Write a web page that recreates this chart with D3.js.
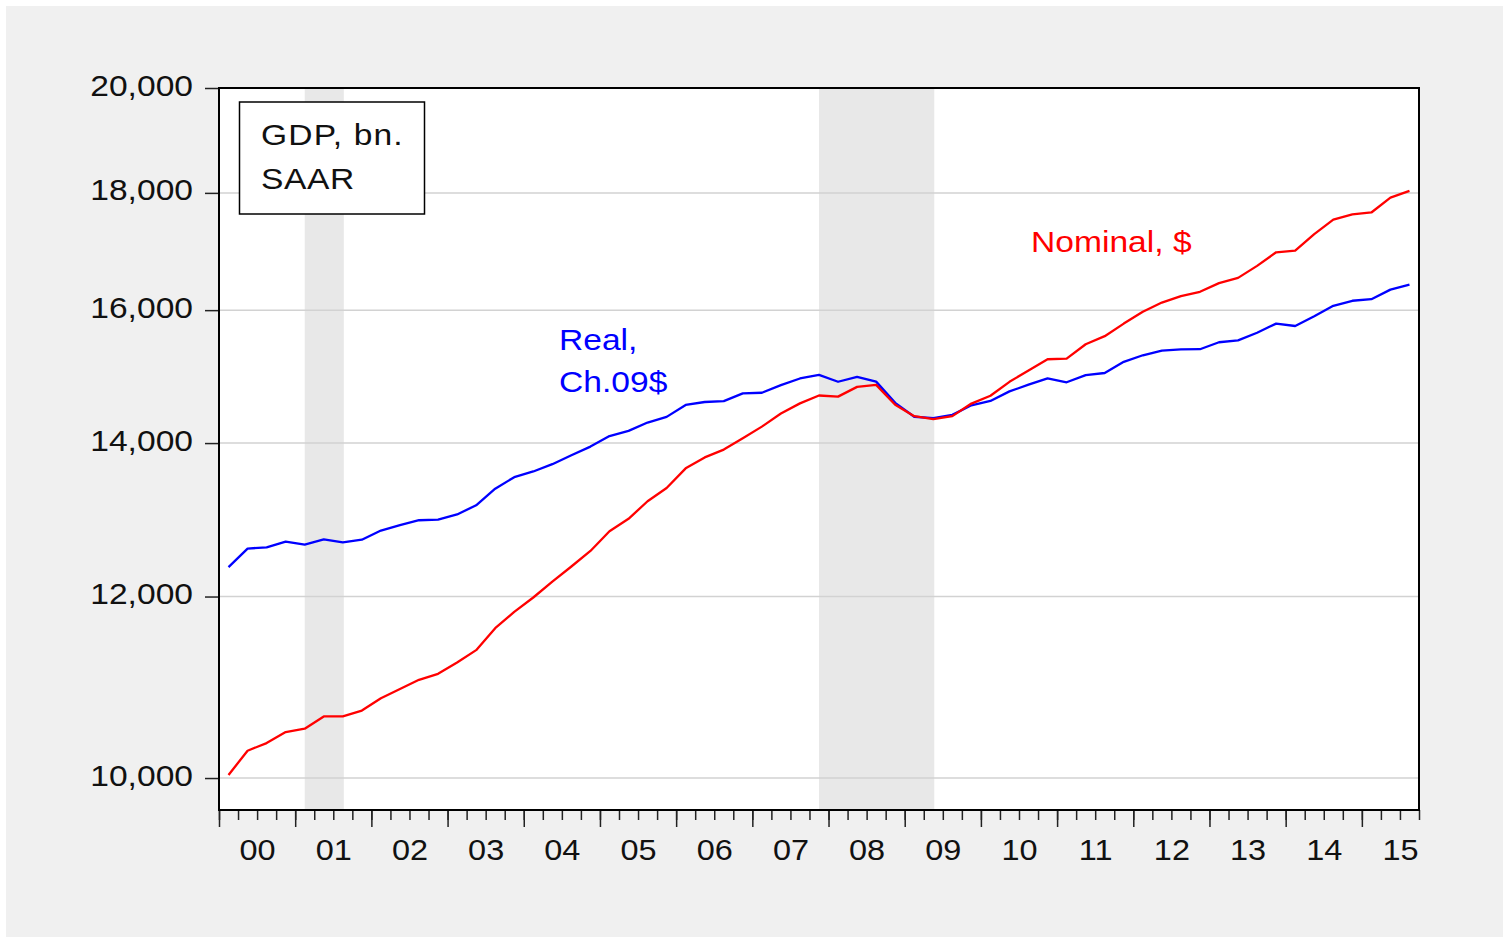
<!DOCTYPE html>
<html>
<head>
<meta charset="utf-8">
<script src="https://cdn.jsdelivr.net/npm/d3@7"></script>
<style>
	body { margin: 0; background: #ffffff; }
	svg { display: block; }
	text { font-family: 'Liberation Sans', Arial, sans-serif; }
</style>
</head>
<body>
<svg></svg>
<script>
// year labels on the x axis, data is quarterly from 2000Q1 to 2015Q3
const years = ['00', '01', '02', '03', '04', '05', '06', '07', '08', '09', '10', '11', '12', '13', '14', '15'];

// real GDP, bn. chained 2009 $, SAAR
const realGdp = [
	12359.1, 12592.5, 12607.7, 12679.3,
	12643.3, 12710.3, 12670.1, 12705.3,
	12822.3, 12893.0, 12955.8, 12964.0,
	13031.2, 13152.1, 13372.4, 13528.7,
	13606.5, 13706.2, 13830.8, 13950.4,
	14099.1, 14172.7, 14291.8, 14373.4,
	14546.1, 14589.6, 14602.6, 14716.9,
	14726.0, 14838.7, 14938.5, 14991.8,
	14889.5, 14963.4, 14891.6, 14577.0,
	14375.0, 14355.6, 14402.5, 14541.9,
	14604.8, 14745.9, 14845.5, 14939.0,
	14881.3, 14989.6, 15021.1, 15190.3,
	15291.0, 15362.4, 15380.8, 15384.3,
	15491.9, 15521.6, 15641.3, 15785.3,
	15747.0, 15900.8, 16069.0, 16151.4,
	16177.3, 16333.6, 16414.0
];

// nominal GDP, bn. $, SAAR
const nominalGdp = [
	10031.0, 10278.3, 10357.4, 10472.3,
	10508.1, 10638.4, 10639.5, 10701.3,
	10834.4, 10934.8, 11037.1, 11103.8,
	11230.1, 11370.7, 11625.1, 11816.8,
	11988.4, 12181.4, 12367.7, 12562.2,
	12813.7, 12974.1, 13205.4, 13381.6,
	13648.9, 13799.8, 13908.5, 14066.4,
	14233.2, 14422.3, 14569.7, 14685.3,
	14668.4, 14813.0, 14843.0, 14549.9,
	14383.9, 14340.4, 14384.1, 14566.5,
	14681.1, 14888.6, 15057.7, 15230.2,
	15238.4, 15460.9, 15587.1, 15785.3,
	15973.9, 16121.9, 16227.9, 16297.3,
	16440.7, 16526.8, 16727.5, 16957.6,
	16984.3, 17270.0, 17522.1, 17615.9,
	17649.3, 17913.7, 18035.0
];

// NBER recessions, first and last quarter shaded
const recessions = [['2001Q1', '2001Q3'], ['2007Q4', '2009Q2']];

const yTicks = [10000, 12000, 14000, 16000, 18000, 20000];

const width = 1503;
const height = 937;
const plotLeft = 219, plotRight = 1419, plotTop = 88, plotBottom = 810;
const sx = 1.12; // the original picture is stretched sideways a little

const quarters = [];
years.forEach((yy) => {
	for (let q = 1; q <= 4; q++) {
		quarters.push('20' + yy + 'Q' + q);
	}
});
const n = realGdp.length;
const qIndex = (s) => quarters.indexOf(s);

const svg = d3.select('svg')
	.attr('width', width)
	.attr('height', height)
	.attr('viewBox', [0, 0, width, height]);

svg.append('rect')
	.attr('x', 6)
	.attr('y', 6)
	.attr('width', width - 6)
	.attr('height', height - 6)
	.attr('fill', '#f0f0f0');

const x = d3.scaleLinear()
	.domain([-0.5, n - 0.5])
	.range([plotLeft, plotRight]);

const y = d3.scaleLog()
	.domain([9684, 20000])
	.range([plotBottom, plotTop]);

svg.append('rect')
	.attr('x', plotLeft)
	.attr('y', plotTop)
	.attr('width', plotRight - plotLeft)
	.attr('height', plotBottom - plotTop)
	.attr('fill', '#ffffff');

// recession shading
svg.append('g')
	.selectAll('rect')
	.data(recessions)
	.enter()
		.append('rect')
		.attr('x', d => x(qIndex(d[0])))
		.attr('y', plotTop)
		.attr('width', d => x(qIndex(d[1])) - x(qIndex(d[0])) + 1)
		.attr('height', plotBottom - plotTop)
		.attr('fill', '#e8e8e8');

// grid lines
svg.append('g')
	.selectAll('line')
	.data(yTicks)
	.enter()
		.append('line')
		.attr('x1', plotLeft)
		.attr('x2', plotRight)
		.attr('y1', d => y(d))
		.attr('y2', d => y(d))
		.attr('stroke', '#d2d2d2')
		.attr('stroke-width', 1.5);

// y axis
const yAxis = svg.append('g')
	.attr('transform', 'translate(' + plotLeft + ',0)')
	.call(
		d3.axisLeft(y)
			.tickValues(yTicks)
			.tickFormat(d3.format(','))
			.tickSize(14)
	);
yAxis.select('.domain').remove();
yAxis.selectAll('line')
	.attr('stroke', '#222')
	.attr('stroke-width', 1.5);
yAxis.selectAll('text')
	.attr('x', null)
	.attr('dy', null)
	.attr('transform', 'translate(-26,7) scale(' + sx + ',1)')
	.attr('font-size', 30)
	.attr('fill', '#111');

// x axis: quarter ticks, year ticks, labels
const quarterBounds = d3.range(0, n + 1).map(i => i - 0.5);
const yearBounds = quarterBounds.filter((d, i) => i % 4 === 0);
const yearMids = years.map((d, i) => i * 4 + 1.5);

const minor = svg.append('g')
	.attr('transform', 'translate(0,' + plotBottom + ')')
	.call(d3.axisBottom(x).tickValues(quarterBounds).tickSize(10).tickFormat(''));
minor.select('.domain').remove();

const major = svg.append('g')
	.attr('transform', 'translate(0,' + plotBottom + ')')
	.call(d3.axisBottom(x).tickValues(yearBounds).tickSize(17).tickFormat(''));
major.select('.domain').remove();

svg.selectAll('.tick line')
	.attr('stroke', '#222')
	.attr('stroke-width', 1.5);

const labels = svg.append('g')
	.attr('transform', 'translate(0,' + plotBottom + ')')
	.call(
		d3.axisBottom(x)
			.tickValues(yearMids)
			.tickSize(0)
			.tickFormat((d, i) => years[i])
	);
labels.select('.domain').remove();
labels.selectAll('text')
	.attr('y', null)
	.attr('dy', null)
	.attr('transform', 'translate(0,50) scale(' + sx + ',1)')
	.attr('font-size', 29)
	.attr('fill', '#111');
labels.attr('font-family', null);
yAxis.attr('font-family', null);

// series
const line = d3.line()
	.x((d, i) => x(i))
	.y(d => y(d));

svg.append('path')
	.datum(realGdp)
	.attr('d', line)
	.attr('fill', 'none')
	.attr('stroke', '#0000ff')
	.attr('stroke-width', 2.3)
	.attr('stroke-linejoin', 'round');

svg.append('path')
	.datum(nominalGdp)
	.attr('d', line)
	.attr('fill', 'none')
	.attr('stroke', '#ff0000')
	.attr('stroke-width', 2.3)
	.attr('stroke-linejoin', 'round');

// frame
svg.append('rect')
	.attr('x', plotLeft)
	.attr('y', plotTop)
	.attr('width', plotRight - plotLeft)
	.attr('height', plotBottom - plotTop)
	.attr('fill', 'none')
	.attr('stroke', '#000')
	.attr('stroke-width', 2);

// legend box
svg.append('rect')
	.attr('x', 239.5)
	.attr('y', 102)
	.attr('width', 185)
	.attr('height', 112)
	.attr('fill', '#ffffff')
	.attr('stroke', '#000')
	.attr('stroke-width', 1.5);

const addText = (str, tx, ty, color, spacing) => {
	svg.append('text')
		.attr('transform', 'translate(' + tx + ',' + ty + ') scale(' + sx + ',1)')
		.attr('font-size', 30)
		.attr('letter-spacing', spacing || 0)
		.attr('fill', color)
		.text(str);
};

addText('GDP, bn.', 261, 145, '#111', 1);
addText('SAAR', 261, 189, '#111', 0.5);
addText('Real,', 559, 350, '#0000ff');
addText('Ch.09$', 559, 392, '#0000ff');
addText('Nominal, $', 1031, 252, '#ff0000');
</script>
</body>
</html>
